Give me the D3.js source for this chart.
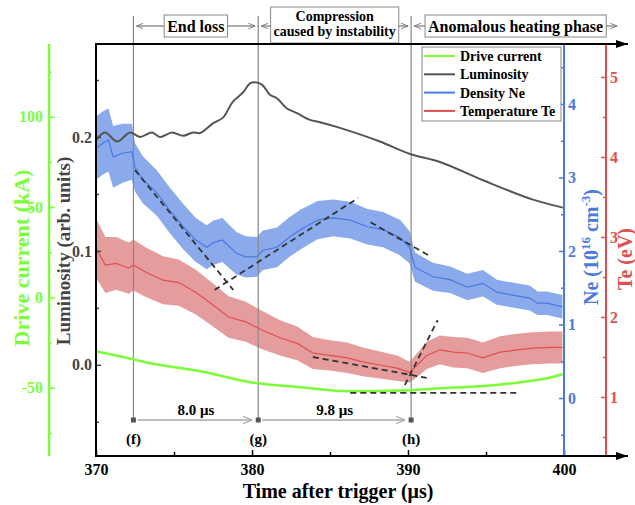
<!DOCTYPE html>
<html>
<head>
<meta charset="utf-8">
<script src="https://cdn.jsdelivr.net/npm/d3@7"></script>
<style>
  body { margin: 0; background: #fff; }
  svg { display: block; }
</style>
</head>
<body>
<svg id="chart" width="635" height="505"></svg>
<script>
// values
const lumTime = [370.0, 370.58, 371.35, 372.18, 372.82, 373.59, 374.1, 374.87, 375.58, 376.22, 376.67, 377.5, 378.14, 378.78, 379.42, 379.87, 380.19, 380.64, 381.15, 381.6, 382.24, 382.88, 383.72, 384.36, 385.64, 388.2, 390.13, 392.05, 394.81, 398.01, 399.94];
const lumVal = [0.197, 0.204, 0.196, 0.204, 0.200, 0.204, 0.200, 0.204, 0.201, 0.204, 0.2035, 0.212, 0.217, 0.231, 0.239, 0.247, 0.248, 0.246, 0.237, 0.234, 0.225, 0.221, 0.215, 0.213, 0.208, 0.196, 0.185, 0.178, 0.162, 0.145, 0.138];

const neTime = [370.0, 370.45, 370.8, 371.1, 371.7, 372.3, 372.5, 373.0, 373.9, 374.7, 375.6, 376.4, 377.1, 377.5, 378.1, 379.0, 379.6, 380.3, 380.7, 381.6, 382.4, 383.1, 384.2, 385.2, 386.3, 387.4, 388.4, 389.5, 390.1, 390.45, 391.6, 392.7, 393.8, 394.8, 395.7, 396.7, 397.8, 398.3, 398.9, 399.9];
const neVal = [3.40, 3.47, 3.51, 3.28, 3.33, 3.35, 3.14, 2.97, 2.79, 2.56, 2.33, 2.15, 2.05, 2.11, 2.15, 1.97, 1.92, 1.92, 2.01, 2.05, 2.19, 2.29, 2.42, 2.45, 2.42, 2.33, 2.29, 2.18, 2.05, 1.78, 1.65, 1.61, 1.51, 1.56, 1.44, 1.40, 1.36, 1.29, 1.29, 1.24];
const neErr = [0.43, 0.43, 0.43, 0.42, 0.40, 0.38, 0.33, 0.32, 0.31, 0.31, 0.31, 0.30, 0.30, 0.30, 0.30, 0.29, 0.28, 0.27, 0.27, 0.27, 0.27, 0.27, 0.26, 0.25, 0.25, 0.24, 0.24, 0.24, 0.22, 0.20, 0.19, 0.18, 0.18, 0.18, 0.17, 0.17, 0.17, 0.16, 0.16, 0.16];

const teTime = [370.0, 370.6, 371.3, 372.1, 372.4, 373.2, 374.3, 375.3, 376.4, 377.5, 378.5, 379.6, 380.6, 381.8, 382.9, 383.9, 385.0, 386.1, 387.1, 388.2, 389.3, 390.1, 390.6, 391.2, 392.05, 392.9, 393.8, 394.8, 395.9, 397.0, 398.0, 399.1, 399.9];
const teVal = [2.86, 2.65, 2.67, 2.61, 2.65, 2.56, 2.46, 2.43, 2.31, 2.15, 2.00, 1.94, 1.84, 1.74, 1.67, 1.55, 1.52, 1.49, 1.44, 1.40, 1.36, 1.31, 1.40, 1.52, 1.59, 1.56, 1.55, 1.49, 1.56, 1.59, 1.61, 1.62, 1.62];
const teErr = [0.37, 0.35, 0.33, 0.32, 0.32, 0.31, 0.30, 0.29, 0.28, 0.27, 0.26, 0.25, 0.24, 0.22, 0.21, 0.20, 0.19, 0.19, 0.18, 0.17, 0.16, 0.13, 0.15, 0.17, 0.18, 0.19, 0.19, 0.19, 0.2, 0.2, 0.2, 0.2, 0.2];

const curTime = [370.0, 372.4, 373.5, 376.7, 379.9, 383.1, 386.3, 389.5, 392.05, 394.6, 396.7, 398.9, 399.9];
const curVal = [-29.8, -34.3, -36.5, -40.9, -47.0, -49.7, -51.9, -51.6, -50.3, -49.2, -47.5, -44.8, -42.5];

// dashed trend lines: [t0, v0, t1, v1]
const neFits = [[372.5, 3.10, 378.8, 1.47], [377.6, 1.47, 386.8, 2.72], [387.6, 2.39, 391.5, 1.92]];
const teFits = [[383.9, 1.50, 391.2, 1.24], [389.8, 1.15, 391.9, 1.96]];
const curFits = [[386.3, -52.9, 397.0, -52.9]];

const eventTimes = [372.4, 380.4, 390.2];
const eventLabels = ["(f)", "(g)", "(h)"];
const intervalLabels = ["8.0 μs", "9.8 μs"];
const phaseBounds = [372.4, 380.4, 390.2, 403.6];
const phaseLabels = [["End loss"], ["Compression", "caused by instability"], ["Anomalous heating phase"]];

const seriesNames = ["Drive current", "Luminosity", "Density Ne", "Temperature Te"];

const xTicks = [370, 380, 390, 400], xMinor = [375, 385, 395];
const lumTicks = [0, 0.1, 0.2], lumMinor = [-0.05, 0.05, 0.15, 0.25];
const curTicks = [-50, 0, 50, 100], curMinor = [-75, -25, 25, 75, 125];
const neTicks = [0, 1, 2, 3, 4], neMinor = [-0.5, 0.5, 1.5, 2.5, 3.5, 4.5];
const teTicks = [1, 2, 3, 4, 5], teMinor = [0.5, 1.5, 2.5, 3.5, 4.5];

const GREEN = "#7dfc3a", GRAY = "#555", BLUE = "#4a7ae0", RED = "#e0504f";
const BLUE_BAND = "#8aaaeb", RED_BAND = "#e59c9c";
const SERIF = "'Liberation Serif', 'Times New Roman', serif";

const pLeft = 96, pRight = 564, pTop = 44, pBottom = 456;

const svg = d3.select("#chart")
  .attr("font-family", SERIF)
  .attr("font-weight", "bold");

const x = d3.scaleLinear().domain([370, 400]).range([pLeft, pRight]);
const yLum = d3.scaleLinear().domain([-0.08, 0.2816]).range([pBottom, pTop]);
const yCur = d3.scaleLinear().domain([-87.8, 140.3]).range([pBottom, pTop]);
const yNe = d3.scaleLinear().domain([-0.789, 4.816]).range([pBottom, pTop]);
const yTe = d3.scaleLinear().domain([0.2625, 5.4125]).range([pBottom, pTop]);

// markers
const defs = svg.append("defs");
defs.append("marker")
  .attr("id", "open").attr("viewBox", "0 0 10 10")
  .attr("refX", 10).attr("refY", 5)
  .attr("markerWidth", 7).attr("markerHeight", 7)
  .attr("markerUnits", "userSpaceOnUse")
  .attr("orient", "auto-start-reverse")
  .append("path").attr("d", "M0,1 L10,5 L0,9")
  .attr("fill", "none").attr("stroke", "#777").attr("stroke-width", 1.3);
defs.append("marker")
  .attr("id", "grayopen").attr("viewBox", "0 0 10 10")
  .attr("refX", 10).attr("refY", 5)
  .attr("markerWidth", 9).attr("markerHeight", 9)
  .attr("markerUnits", "userSpaceOnUse")
  .attr("orient", "auto")
  .append("path").attr("d", "M0,1 L10,5 L0,9")
  .attr("fill", "none").attr("stroke", "#aaa").attr("stroke-width", 1.3);
defs.append("marker")
  .attr("id", "solid").attr("viewBox", "0 0 12 8")
  .attr("refX", 12).attr("refY", 4)
  .attr("markerWidth", 13).attr("markerHeight", 8)
  .attr("markerUnits", "userSpaceOnUse")
  .attr("orient", "auto")
  .append("path").attr("d", "M0,0 L12,4 L0,8 Z").attr("fill", "#000");

// bands
const zip = (t, v, e) => t.map((d, i) => ({ t: d, v: v[i], e: e ? e[i] : 0 }));
const neData = zip(neTime, neVal, neErr);
const teData = zip(teTime, teVal, teErr);
const lumData = zip(lumTime, lumVal);
const curData = zip(curTime, curVal);

svg.append("path").datum(teData)
  .attr("fill", RED_BAND)
  .attr("d", d3.area().x(d => x(d.t)).y0(d => yTe(d.v - d.e)).y1(d => yTe(d.v + d.e)));
svg.append("path").datum(neData)
  .attr("fill", BLUE_BAND)
  .attr("d", d3.area().x(d => x(d.t)).y0(d => yNe(d.v - d.e)).y1(d => yNe(d.v + d.e)));

// event lines
svg.selectAll(".event")
  .data(eventTimes)
  .enter()
  .append("line")
  .classed("event", true)
  .attr("x1", d => x(d)).attr("x2", d => x(d))
  .attr("y1", 16).attr("y2", 420)
  .attr("stroke", "#888").attr("stroke-width", 1.2);

// series lines
svg.append("path").datum(teData)
  .attr("fill", "none").attr("stroke", RED).attr("stroke-width", 1.2)
  .attr("d", d3.line().x(d => x(d.t)).y(d => yTe(d.v)));
svg.append("path").datum(neData)
  .attr("fill", "none").attr("stroke", BLUE).attr("stroke-width", 1.2)
  .attr("d", d3.line().x(d => x(d.t)).y(d => yNe(d.v)));
svg.append("path").datum(lumData)
  .attr("fill", "none").attr("stroke", GRAY).attr("stroke-width", 2)
  .attr("d", d3.line().curve(d3.curveCatmullRom).x(d => x(d.t)).y(d => yLum(d.v)));
svg.append("path").datum(curData)
  .attr("fill", "none").attr("stroke", GREEN).attr("stroke-width", 2.5)
  .attr("d", d3.line().curve(d3.curveMonotoneX).x(d => x(d.t)).y(d => yCur(d.v)));

// dashed fits
function fits(data, y) {
  svg.selectAll(null)
    .data(data)
    .enter()
    .append("line")
    .attr("x1", d => x(d[0])).attr("y1", d => y(d[1]))
    .attr("x2", d => x(d[2])).attr("y2", d => y(d[3]))
    .attr("stroke", "#333").attr("stroke-width", 1.8)
    .attr("stroke-dasharray", "6,4");
}
fits(neFits, yNe);
fits(teFits, yTe);
fits(curFits, yCur);

// event markers and intervals
svg.selectAll(".mark")
  .data(eventTimes)
  .enter()
  .append("rect")
  .attr("x", d => x(d) - 2.5).attr("y", 417.5)
  .attr("width", 5).attr("height", 5)
  .attr("fill", "#555");
svg.selectAll(".elabel")
  .data(eventTimes)
  .enter()
  .append("text")
  .attr("x", d => x(d)).attr("y", 444)
  .attr("text-anchor", "middle").attr("font-size", 15)
  .text((d, i) => eventLabels[i]);
intervalLabels.forEach((lab, i) => {
  const a = x(eventTimes[i]), b = x(eventTimes[i + 1]);
  svg.append("line")
    .attr("x1", a + 4).attr("x2", b - 6)
    .attr("y1", 420).attr("y2", 420)
    .attr("stroke", "#aaa").attr("stroke-width", 1.3)
    .attr("marker-end", "url(#grayopen)");
  svg.append("text")
    .attr("x", (a + b) / 2).attr("y", 415)
    .attr("text-anchor", "middle").attr("font-size", 15)
    .text(lab);
});

// phase annotations on top
phaseLabels.forEach((lines, i) => {
  const a = x(phaseBounds[i]), b = x(phaseBounds[i + 1]);
  const mid = (a + b) / 2;
  const fs = lines.length > 1 ? 14 : 16;
  const g = svg.append("g");
  const texts = lines.map((s, j) => g.append("text")
    .attr("x", mid)
    .attr("y", lines.length > 1 ? 21 + j * 15 : 32)
    .attr("text-anchor", "middle").attr("font-size", fs)
    .text(s));
  const w = d3.max(texts, t => t.node().getComputedTextLength()) + 6;
  const h = lines.length > 1 ? 36 : 22;
  const y0 = lines.length > 1 ? 7 : 15;
  g.insert("rect", "text")
    .attr("x", mid - w / 2).attr("y", y0)
    .attr("width", w).attr("height", h)
    .attr("fill", "#fff").attr("stroke", "#888").attr("stroke-width", 1);
  g.append("line")
    .attr("x1", a + 3).attr("x2", mid - w / 2).attr("y1", 26).attr("y2", 26)
    .attr("stroke", "#777").attr("stroke-width", 1.2)
    .attr("marker-start", "url(#open)");
  g.append("line")
    .attr("x1", mid + w / 2).attr("x2", b - 3).attr("y1", 26).attr("y2", 26)
    .attr("stroke", "#777").attr("stroke-width", 1.2)
    .attr("marker-end", "url(#open)");
});

// axes
function styleAxis(g, color, size) {
  g.select(".domain").remove();
  g.selectAll("line").attr("stroke", color).attr("stroke-width", 1.5);
  g.selectAll("text")
    .attr("fill", color)
    .attr("font-size", size)
    .attr("font-family", SERIF)
    .attr("font-weight", "bold");
}

const xg = svg.append("g").attr("transform", `translate(0,${pBottom})`);
xg.append("g").call(d3.axisBottom(x).tickValues(xTicks).tickSizeInner(-6).tickSizeOuter(0).tickPadding(8).tickFormat(d3.format("d")))
  .call(g => styleAxis(g, "#000", 16));
xg.append("g").call(d3.axisBottom(x).tickValues(xMinor).tickSizeInner(-4).tickSizeOuter(0).tickFormat(""))
  .call(g => styleAxis(g, "#000", 16));

const lg = svg.append("g").attr("transform", `translate(${pLeft},0)`);
lg.append("g").call(d3.axisLeft(yLum).tickValues(lumTicks).tickSizeInner(-5).tickSizeOuter(0).tickPadding(4).tickFormat(d3.format(".1f")))
  .call(g => styleAxis(g, "#444", 16));
lg.append("g").call(d3.axisLeft(yLum).tickValues(lumMinor).tickSizeInner(-3).tickSizeOuter(0).tickFormat(""))
  .call(g => styleAxis(g, "#444", 16));

const cg = svg.append("g").attr("transform", "translate(49,0)");
cg.append("g").call(d3.axisLeft(yCur).tickValues(curTicks).tickSizeInner(-6).tickSizeOuter(0).tickPadding(6).tickFormat(d => String(d)))
  .call(g => styleAxis(g, GREEN, 16));
cg.append("g").call(d3.axisLeft(yCur).tickValues(curMinor).tickSizeInner(-3).tickSizeOuter(0).tickFormat(""))
  .call(g => styleAxis(g, GREEN, 16));
cg.append("line").attr("y1", pTop).attr("y2", pBottom).attr("stroke", GREEN).attr("stroke-width", 2.5);

const ng = svg.append("g").attr("transform", `translate(${pRight},0)`);
ng.append("g").call(d3.axisRight(yNe).tickValues(neTicks).tickSizeInner(-5).tickSizeOuter(0).tickPadding(4).tickFormat(d3.format("d")))
  .call(g => styleAxis(g, BLUE, 16));
ng.append("g").call(d3.axisRight(yNe).tickValues(neMinor).tickSizeInner(-3).tickSizeOuter(0).tickFormat(""))
  .call(g => styleAxis(g, BLUE, 16));
ng.append("line").attr("y1", pTop).attr("y2", pBottom).attr("stroke", BLUE).attr("stroke-width", 2);

const tg = svg.append("g").attr("transform", "translate(606,0)");
tg.append("g").call(d3.axisRight(yTe).tickValues(teTicks).tickSizeInner(-5).tickSizeOuter(0).tickPadding(4).tickFormat(d3.format("d")))
  .call(g => styleAxis(g, RED, 16));
tg.append("g").call(d3.axisRight(yTe).tickValues(teMinor).tickSizeInner(-3).tickSizeOuter(0).tickFormat(""))
  .call(g => styleAxis(g, RED, 16));
tg.append("line").attr("y1", pTop).attr("y2", pBottom).attr("stroke", RED).attr("stroke-width", 2);

// frame lines with arrows
svg.append("line").attr("x1", pLeft).attr("x2", pLeft).attr("y1", pTop).attr("y2", pBottom)
  .attr("stroke", "#000").attr("stroke-width", 2);
[pTop, pBottom].forEach(yy => {
  svg.append("line").attr("x1", pLeft - 1).attr("x2", 628).attr("y1", yy).attr("y2", yy)
    .attr("stroke", "#000").attr("stroke-width", 2)
    .attr("marker-end", "url(#solid)");
});

// axis titles
svg.append("text")
  .attr("x", (pLeft + pRight) / 2 + 8).attr("y", 498)
  .attr("text-anchor", "middle").attr("font-size", 20)
  .text("Time after trigger (μs)");
svg.append("text")
  .attr("transform", "translate(29,258) rotate(-90)")
  .attr("text-anchor", "middle").attr("font-size", 22).attr("fill", GREEN)
  .text("Drive current (kA)");
svg.append("text")
  .attr("transform", "translate(70,251) rotate(-90)")
  .attr("text-anchor", "middle").attr("font-size", 19).attr("fill", "#444")
  .text("Luminosity (arb. units)");
const neTitle = svg.append("text")
  .attr("transform", "translate(598,247) rotate(-90)")
  .attr("text-anchor", "middle").attr("font-size", 20).attr("fill", BLUE);
neTitle.append("tspan").text("Ne (10");
neTitle.append("tspan").attr("font-size", 13).attr("dy", -8).text("16");
neTitle.append("tspan").attr("dy", 8).text(" cm");
neTitle.append("tspan").attr("font-size", 13).attr("dy", -8).text("-3");
neTitle.append("tspan").attr("dy", 8).text(")");
svg.append("text")
  .attr("transform", "translate(632,259) rotate(-90)")
  .attr("text-anchor", "middle").attr("font-size", 20).attr("fill", RED)
  .text("Te (eV)");

// legend
const legColors = [GREEN, GRAY, BLUE, RED];
const leg = svg.append("g");
leg.append("rect")
  .attr("x", 422).attr("y", 47).attr("width", 139).attr("height", 74)
  .attr("fill", "#fff").attr("stroke", "#888").attr("stroke-width", 1);
const items = leg.selectAll(".item")
  .data(seriesNames)
  .enter()
  .append("g")
  .attr("transform", (d, i) => `translate(0,${56 + i * 18.3})`);
items.append("line")
  .attr("x1", 424).attr("x2", 455)
  .attr("stroke", (d, i) => legColors[i]).attr("stroke-width", 2);
items.append("text")
  .attr("x", 460).attr("dy", "0.35em")
  .attr("font-size", 14)
  .text(d => d);
</script>
</body>
</html>
